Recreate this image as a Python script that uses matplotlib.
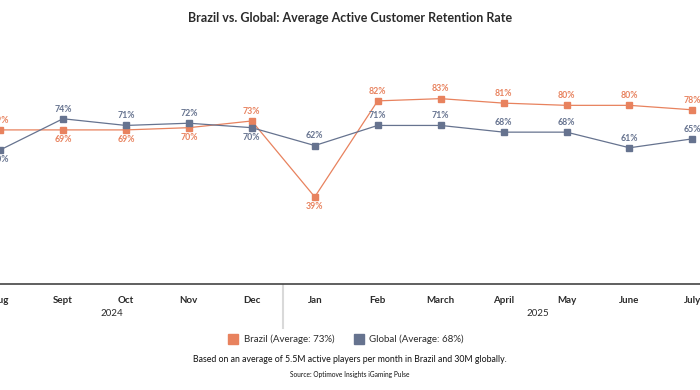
import matplotlib
matplotlib.use("Agg")
import matplotlib.pyplot as plt

months = ["Aug", "Sept", "Oct", "Nov", "Dec", "Jan", "Feb", "March", "April", "May", "June", "July"]
brazil = [69, 69, 69, 70, 73, 39, 82, 83, 81, 80, 80, 78]
global_ = [60, 74, 71, 72, 70, 62, 71, 71, 68, 68, 61, 65]
brazil_label_below = [False, True, True, True, False, True, False, False, False, False, False, False]
global_label_below = [True, False, False, False, True, False, False, False, False, False, False, False]
years = ["2024", "2025"]
legend_labels = ["Brazil (Average: 73%)", "Global (Average: 68%)"]

C_BR = "#E8825E"
C_GL = "#66738F"
TXT = "#2b2b2b"
FONT = "Lato"

plt.rcParams["font.family"] = [FONT, "DejaVu Sans"]

fig = plt.figure(figsize=(7, 3.9), dpi=100)
ax = fig.add_axes([0, 0.2718, 1, 0.5726])
x = list(range(len(months)))

ax.plot(x, brazil, color=C_BR, lw=0.9, marker="s", ms=5, zorder=3)
ax.plot(x, global_, color=C_GL, lw=0.9, marker="s", ms=5, zorder=3)

for xi, v, below in zip(x, brazil, brazil_label_below):
    ax.annotate(f"{v}%", (xi, v), xytext=(0, -7 if below else 7), textcoords="offset points",
                ha="center", va="center", fontsize=6.3, color=C_BR, fontweight="bold")
for xi, v, below in zip(x, global_, global_label_below):
    ax.annotate(f"{v}%", (xi, v), xytext=(0, -7 if below else 7), textcoords="offset points",
                ha="center", va="center", fontsize=6.3, color=C_GL, fontweight="bold")

ax.set_xlim(0.094, 11.12)
ax.set_ylim(0, 100)
for s in ["top", "left", "right"]:
    ax.spines[s].set_visible(False)
ax.spines["bottom"].set_color("#444444")
ax.spines["bottom"].set_linewidth(1.2)
ax.set_yticks([])
ax.set_xticks(x)
ax.set_xticklabels(months, fontsize=7, color=TXT, fontweight="bold")
ax.tick_params(axis="x", length=0, pad=9)

# separator between years
ax.plot([4.5, 4.5], [-0.5, -19.5], color="#d9d9d9", lw=1.5, clip_on=False, transform=ax.transData)

# year labels
ax.text(1.78, -13, years[0], ha="center", va="center", fontsize=7, color=TXT, clip_on=False)
ax.text(8.55, -13, years[1], ha="center", va="center", fontsize=7, color=TXT, clip_on=False)

# title
fig.text(0.5, 0.955, "Brazil vs. Global: Average Active Customer Retention Rate",
         ha="center", va="center", fontsize=9, fontweight="bold", color=TXT)

# legend
fig.patches.append(plt.Rectangle((228 / 700, 1 - 344 / 390), 10 / 700, 10 / 390,
                                 transform=fig.transFigure, color=C_BR))
fig.text(244 / 700, 1 - 339 / 390, legend_labels[0], ha="left", va="center", fontsize=7, color=TXT)
fig.patches.append(plt.Rectangle((354 / 700, 1 - 344 / 390), 10 / 700, 10 / 390,
                                 transform=fig.transFigure, color=C_GL))
fig.text(369 / 700, 1 - 339 / 390, legend_labels[1], ha="left", va="center", fontsize=7, color=TXT)

fig.text(0.5, 1 - 360 / 390,
         "Based on an average of 5.5M active players per month in Brazil and 30M globally.",
         ha="center", va="center", fontsize=6.35, color="#111111")
fig.text(0.5, 1 - 375 / 390, "Source: Optimove Insights iGaming Pulse",
         ha="center", va="center", fontsize=4.8, color="#111111")

fig.savefig("out.png", dpi=100, facecolor="white")
